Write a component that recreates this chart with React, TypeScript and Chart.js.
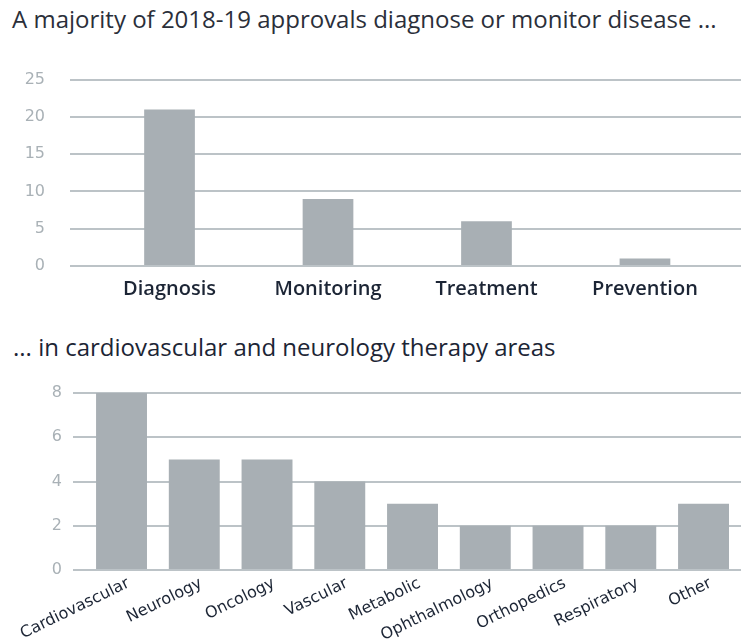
import React, { useEffect, useRef } from "react";
import { Chart, registerables } from "chart.js";

Chart.register(...registerables);

const title1 = "A majority of 2018-19 approvals diagnose or monitor disease ...";
const title2 = "... in cardiovascular and neurology therapy areas";

const purposeLabels = ["Diagnosis", "Monitoring", "Treatment", "Prevention"];
const purposeValues = [21, 9, 6, 1];
const purposeTicks = [0, 5, 10, 15, 20, 25];

const areaLabels = [
  "Cardiovascular",
  "Neurology",
  "Oncology",
  "Vascular",
  "Metabolic",
  "Ophthalmology",
  "Orthopedics",
  "Respiratory",
  "Other",
];
const areaValues = [8, 5, 5, 4, 3, 2, 2, 2, 3];
const areaTicks = [0, 2, 4, 6, 8];

const BAR = "#a8afb4";
const GRID = "#bcc3c7";
const TICK = "#a9b1b6";
const DARK = "#1c2535";

function makeChart(
  canvas: HTMLCanvasElement,
  labels: string[],
  values: number[],
  yTicks: number[],
  cfg: any
) {
  return new Chart(canvas, {
    type: "bar",
    data: {
      datasets: [
        {
          data: values.map((v, i) => ({ x: i, y: v })),
          backgroundColor: BAR,
          borderWidth: 0,
          barPercentage: cfg.barPct,
          categoryPercentage: 1,
        },
      ],
    },
    options: {
      animation: false,
      responsive: false,
      maintainAspectRatio: false,
      layout: { padding: cfg.padding },
      plugins: { legend: { display: false }, tooltip: { enabled: false }, title: { display: false } },
      scales: {
        x: {
          type: "linear",
          offset: false,
          min: cfg.xmin,
          max: cfg.xmax,
          grid: { display: false, drawTicks: false, offset: false },
          border: { display: false },
          afterBuildTicks: (scale: any) => {
            scale.ticks = labels.map((_, i) => ({ value: i }));
          },
          afterFit: (scale: any) => {
            scale.height = cfg.xHeight;
            scale.paddingLeft = 0;
            scale.paddingRight = 0;
          },
          ticks: {
            autoSkip: false,
            minRotation: cfg.rot,
            maxRotation: cfg.rot,
            padding: cfg.xPad,
            labelOffset: cfg.labelOffset || 0,
            color: DARK,
            font: cfg.xFont,
            callback: (v: any) => labels[Math.round(Number(v))] ?? "",
          },
        },
        y: {
          min: yTicks[0],
          max: yTicks[yTicks.length - 1],
          afterBuildTicks: (scale: any) => {
            scale.ticks = yTicks.map((v) => ({ value: v }));
          },
          afterFit: (scale: any) => {
            scale.width = cfg.yWidth;
          },
          grid: { color: GRID, lineWidth: 2, drawTicks: false },
          border: { display: false },
          ticks: {
            padding: cfg.yPad,
            color: TICK,
            font: { family: "DejaVu Sans", size: 16 },
          },
        },
      },
    },
  } as any);
}

export default function App() {
  const ref1 = useRef<HTMLCanvasElement>(null);
  const ref2 = useRef<HTMLCanvasElement>(null);

  useEffect(() => {
    const c1 = makeChart(ref1.current!, purposeLabels, purposeValues, purposeTicks, {
      barPct: 0.32,
      xmin: -0.628,
      xmax: 3.606,
      padding: { top: 16, right: 6, left: 0, bottom: 0 },
      xHeight: 44,
      yWidth: 70,
      yPad: 25,
      xPad: 11,
      rot: 0,
      xFont: { family: "Open Sans", size: 20, weight: "600" },
    });
    const c2 = makeChart(ref2.current!, areaLabels, areaValues, areaTicks, {
      barPct: 0.7,
      xmin: -0.667,
      xmax: 8.515,
      padding: { top: 23, right: 6, left: 0, bottom: 0 },
      xHeight: 72,
      yWidth: 73,
      yPad: 11,
      xPad: 4,
      rot: 26,
      labelOffset: 7,
      xFont: { family: "DejaVu Sans", size: 16 },
    });
    return () => {
      c1.destroy();
      c2.destroy();
    };
  }, []);

  const titleStyle: React.CSSProperties = {
    position: "absolute",
    fontFamily: "Open Sans",
    fontWeight: 400,
    fontSize: 24,
    whiteSpace: "nowrap",
    lineHeight: "24px",
  };

  return (
    <div style={{ position: "absolute", left: 0, top: 0, width: 747, height: 642, background: "#fff" }}>
      <div style={{ ...titleStyle, left: 12, top: 7, color: "#2b2f3a" }}>{title1}</div>
      <canvas ref={ref1} width={747} height={265} style={{ position: "absolute", left: 0, top: 45 }} />
      <div style={{ ...titleStyle, left: 13, top: 335, color: "#1c2535" }}>{title2}</div>
      <canvas ref={ref2} width={747} height={272} style={{ position: "absolute", left: 0, top: 370 }} />
    </div>
  );
}
